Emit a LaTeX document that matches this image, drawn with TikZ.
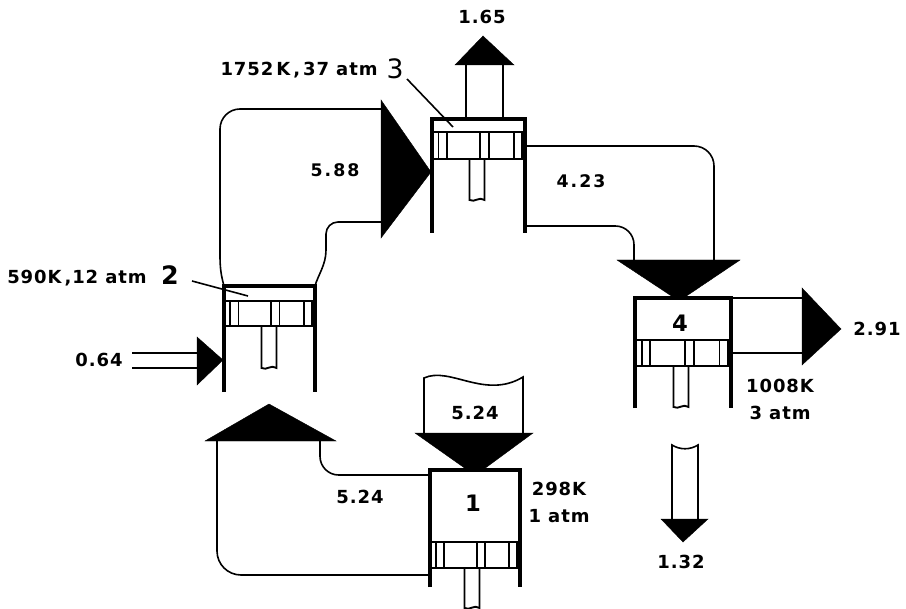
\documentclass[tikz,border=0pt]{standalone}
\usepackage{fontspec}
\newfontfamily\lblfont[LetterSpace=5]{DejaVu Sans Bold}
\newfontfamily\widefont[LetterSpace=12]{DejaVu Sans Bold}
\newfontfamily\numfont{DejaVu Sans}
\usetikzlibrary{positioning,calc}

% cylinder: left, right, top, piston top, piston bottom, wall bottom, rod centre, rod bottom
\newcommand{\cylinder}[8]{%
  \draw[ring] (#1,#4) rectangle (#2,#5);
  \foreach \fr in {.07,.16,.52,.61,.88,.97}
    \draw[ring] ({#1+\fr*(#2-#1)},#4) -- ({#1+\fr*(#2-#1)},#5);
  \draw[wall] (#1,#6) -- (#1,#3) -- (#2,#3) -- (#2,#6);
  \draw[ring] ({#7-7.5},#5) -- ({#7-7.5},#8) .. controls ({#7-2},{#8+3}) and ({#7+2},{#8-4}) .. ({#7+7.5},#8) -- ({#7+7.5},#5);
}

\begin{document}
\begin{tikzpicture}[
  x=0.75pt, y=-0.75pt,
  wall/.style  = {line width=2.6pt, line cap=butt, line join=miter},
  ring/.style  = {line width=1.4pt},
  shaft/.style = {line width=1.2pt},
  head/.style  = {fill=black, draw=black, line width=0.3pt},
  lbl/.style   = {font=\lblfont\fontsize{13.5}{14}\selectfont, inner sep=0pt},
  flow/.style  = {font=\widefont\fontsize{13}{14}\selectfont, inner sep=0pt},
  bignum/.style= {font=\numfont\fontsize{20}{22}\selectfont, inner sep=0pt},
  midnum/.style= {font=\lblfont\fontsize{17}{18}\selectfont, inner sep=0pt},
]
\useasboundingbox (0,0) rectangle (906,609);

% ---- shafts ----
\draw[shaft] (466,65) -- (466,118);
\draw[shaft] (503,65) -- (503,118);
\draw[shaft, rounded corners=15pt] (381,109) -- (220,109) -- (220,255);
\draw[shaft] (220,255) .. controls (220,268) and (221,275) .. (224,286);
\draw[shaft, rounded corners=9pt] (381,222) -- (326,222) -- (326,250);
\draw[shaft] (326,250) .. controls (326,265) and (318,275) .. (315,286);
\draw[shaft] (132,353) -- (197,353);
\draw[shaft] (132,368) -- (197,368);
\draw[shaft, rounded corners=15pt] (525,146) -- (714,146) -- (714,260);
\draw[shaft, rounded corners=14pt] (525,226) -- (634,226) -- (634,260);
\draw[shaft] (731,298) -- (802,298);
\draw[shaft] (731,353) -- (802,353);
\draw[shaft] (672,519) -- (672,445) .. controls (680,450) and (690,450) .. (698,445) -- (698,519);
\draw[shaft] (424,433) -- (424,378) .. controls (450,366) and (485,400) .. (523,377) -- (523,433);
\draw[shaft, rounded corners=18pt] (217,441) -- (217,575) -- (430,575);
\draw[shaft, rounded corners=14pt] (320,441) -- (320,475) -- (430,475);

% ---- arrow heads ----
\fill[head] (455,65) -- (483,36) -- (514,65) -- cycle;
\fill[head] (381,100) -- (431,172) -- (381,238) -- cycle;
\fill[head] (197,337) -- (223,360) -- (197,385) -- cycle;
\fill[head] (617,260) -- (740,260) -- (685,297) -- (673,297) -- cycle;
\fill[head] (802,288) -- (841,329) -- (802,365) -- cycle;
\fill[head] (661,519) -- (708,519) -- (683,542) -- cycle;
\fill[head] (415,433) -- (533,433) -- (484,469) -- (466,469) -- cycle;
\fill[head] (205,441) -- (269,404) -- (336,441) -- cycle;

% ---- cylinders ----
\cylinder{432}{525}{119}{132}{159}{233}{477}{200}
\cylinder{224}{315}{286}{301}{326}{392}{269}{368}
\cylinder{635}{731}{298}{340}{366}{408}{681}{407}
\cylinder{430}{520}{470}{542}{568}{587}{472}{608}

% ---- leaders ----
\node[bignum] (three) at (395,69) {3};
\node[midnum, font=\lblfont\fontsize{19}{20}\selectfont] (two) at (170,275) {2};
\coordinate (ins3) at (453,127);
\coordinate (ins2) at (248,296);
\draw[shaft] (407,79) -- (ins3);
\draw[shaft] (192,281) -- (ins2);

% ---- labels ----
\node[lbl] (state3) at (299,70) {1752\,K\,,\,37 atm};
\node[lbl] (state2) at (77,278) {590K\,,12 atm};
\node[lbl] (w3)  at (482,17)  {1.65};
\node[flow] (q23) at (335,170) {5.88};
\node[flow] (q34) at (581,181) {4.23};
\node[lbl] (w2)  at (99,360)  {0.64};
\node[lbl] (qin) at (475,413) {5.24};
\node[lbl] (q12) at (360,497) {5.24};
\node[lbl] (q4)  at (877,329) {2.91};
\node[lbl] (w4)  at (681,562) {1.32};
\node[lbl] (temp4) at (780,386) {1008K};
\node[lbl, below=20pt of temp4.center, anchor=center] (pres4) {3 atm};
\node[lbl] (temp1) at (559,489) {298K};
\node[lbl, below=20pt of temp1.center, anchor=center] (pres1) {1 atm};
\node[midnum] (one)  at (473,503) {1};
\node[midnum] (four) at (680,323) {4};

\end{tikzpicture}
\end{document}
